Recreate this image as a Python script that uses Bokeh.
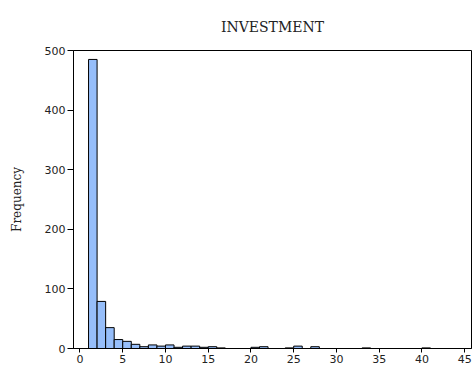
from bokeh.plotting import figure
from bokeh.models import Range1d, FixedTicker
from bokeh.embed import file_html
from bokeh.resources import INLINE

bin_left = [1, 2, 3, 4, 5, 6, 7, 8, 9, 10, 11, 12, 13, 14, 15, 16,
            20, 21, 24, 25, 27, 33, 40]
counts = [485, 79, 35, 15, 12, 7, 3, 6, 4, 6, 2, 4, 4, 2, 3, 1,
          2, 3, 1, 4, 3, 1, 1]
bin_width = 1
x_ticks = [0, 5, 10, 15, 20, 25, 30, 35, 40, 45]
y_ticks = [0, 100, 200, 300, 400, 500]
title_text = "INVESTMENT"
y_label = "Frequency"

p = figure(width=474, height=369, output_backend="svg", toolbar_location=None,
           x_range=Range1d(-0.76, 45.8), y_range=Range1d(0, 500),
           min_border_left=73, min_border_right=3, min_border_top=50,
           min_border_bottom=21)

rights = [b + bin_width for b in bin_left]
p.quad(left=bin_left, right=rights, bottom=0, top=counts,
       fill_color="#96BEFA", line_color="black", line_width=1)

p.title.text = title_text
p.title.align = "center"
p.title.text_font = "DejaVu Serif"
p.title.text_font_size = "14px"
p.title.text_font_style = "normal"
p.title.text_color = "#222222"
p.title.standoff = 32

p.xgrid.visible = False
p.ygrid.visible = False
p.outline_line_color = "black"
p.outline_line_alpha = 1
p.outline_line_width = 1

p.xaxis.ticker = FixedTicker(ticks=x_ticks)
p.yaxis.ticker = FixedTicker(ticks=y_ticks)
for ax in (p.xaxis[0], p.yaxis[0]):
    ax.major_label_text_font = "DejaVu Sans"
    ax.major_label_text_font_size = "11px"
    ax.major_label_text_color = "#222222"
    ax.minor_tick_line_color = None
    ax.axis_line_color = "black"
    ax.major_tick_line_color = "black"
    ax.major_tick_in = 0
    ax.major_label_standoff = 2
p.xaxis.major_tick_out = 4
p.yaxis.major_tick_out = 6
p.yaxis.major_label_orientation = "horizontal"

p.yaxis.axis_label = y_label
p.yaxis.axis_label_text_font = "DejaVu Serif"
p.yaxis.axis_label_text_font_size = "12px"
p.yaxis.axis_label_text_font_style = "normal"
p.yaxis.axis_label_text_color = "#222222"
p.yaxis.axis_label_standoff = 18

open("out.html", "w").write(file_html(p, INLINE))
